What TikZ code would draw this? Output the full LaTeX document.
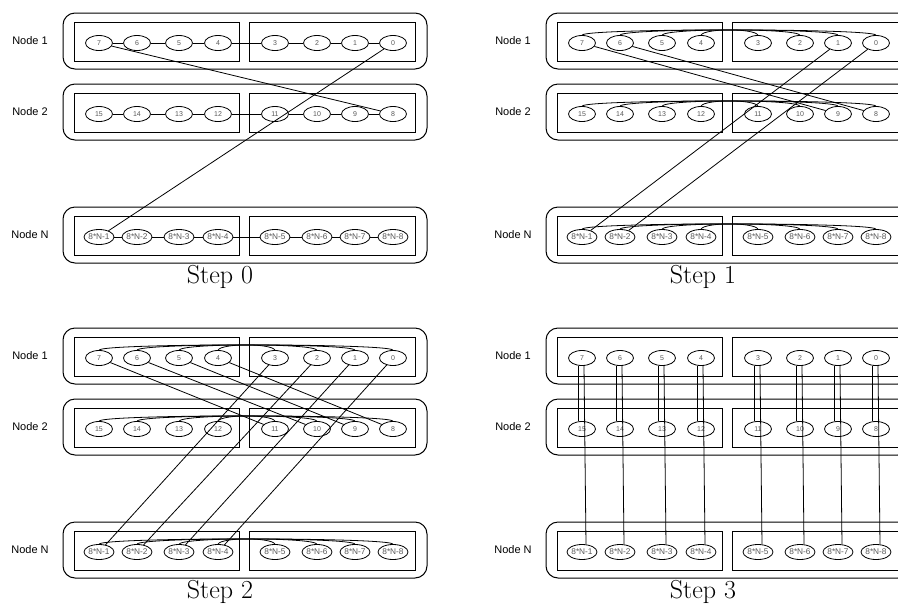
\documentclass[tikz,border=0pt]{standalone}
\usepackage{fontspec}
\newfontfamily\nodefont{Liberation Sans}
\usetikzlibrary{shapes.geometric}

\tikzset{
  gpu/.style={ellipse, draw, fill=white, line width=0.8pt, minimum width=27pt, minimum height=15pt,
    inner sep=0pt, text=black!65, font=\nodefont\fontsize{7}{8}\selectfont},
  gpuN/.style={gpu, font=\nodefont\fontsize{8.3}{9}\selectfont},
  outerbox/.style={draw, line width=1pt, rounded corners=12pt},
  innerbox/.style={draw, line width=1pt},
  rowlabel/.style={font=\nodefont\fontsize{11}{12}\selectfont},
  steplabel/.style={font=\fontsize{26}{30}\selectfont},
  link/.style={line width=0.8pt},
}

\begin{document}
\begin{tikzpicture}[x=1pt, y=-1pt]
\useasboundingbox (0,0) rectangle (898,606);
\clip (0,0) rectangle (898,606);

%%%%%%%%%%
% Panels (boxes, GPUs, captions)
%%%%%%%%%%
\foreach \s/\dx/\dy in {0/0/0, 1/483/0, 2/0/315, 3/483/315} {
\begin{scope}[shift={(\dx,\dy)}]
% node frames
\foreach \r/\y/\lab in {1/43/{Node 1}, 2/114/{Node 2}, N/237/{Node N}} {
  \draw[outerbox] (63,\y-30) rectangle (427,\y+26);
  \draw[innerbox] (74,\y-21) rectangle (239,\y+18);
  \draw[innerbox] (249,\y-21) rectangle (415,\y+18);
  \node[rowlabel] (lab\s\r) at (30,\y-2) {\lab};
}
% GPUs
\foreach \i/\x in {0/99, 1/137, 2/179, 3/218, 4/275, 5/317, 6/355, 7/393} {
  \pgfmathtruncatemacro{\ga}{7-\i}
  \pgfmathtruncatemacro{\gb}{15-\i}
  \pgfmathtruncatemacro{\gc}{\i+1}
  \node[gpu] (s\s-1-\i) at (\x,43) {\ga};
  \node[gpu] (s\s-2-\i) at (\x,114) {\gb};
  \node[gpuN] (s\s-N-\i) at (\x,237) {8*N-\gc};
}
\node[steplabel] (step\s) at (220,277) {Step \s};
\end{scope}
}

%%%%%%%%%%
% Step 0: one ring
%%%%%%%%%%
\foreach \r in {1,2,N} {
  \foreach \i [evaluate=\i as \j using int(\i+1)] in {0,...,6} {
    \draw[link] (s0-\r-\i) -- (s0-\r-\j);
  }
}
\draw[link] (s0-1-0) -- (s0-2-7);
\draw[link] (s0-1-7) -- (s0-N-0);

%%%%%%%%%%
% Steps 1 and 2: arcs inside each node
%%%%%%%%%%
\foreach \s in {1,2} {
  \foreach \r in {1,2,N} {
    \foreach \i [evaluate=\i as \j using int(7-\i)] in {0,...,3} {
      \draw[link] (s\s-\r-\i.north) to[out=60, in=120, out distance=8pt, in distance=8pt] (s\s-\r-\j.north);
    }
  }
}

% Step 1: cross-node links
\draw[link] (s1-1-0) -- (s1-2-6);
\draw[link] (s1-1-1) -- (s1-2-7);
\draw[link] (s1-1-6) -- (s1-N-0);
\draw[link] (s1-1-7) -- (s1-N-1);

% Step 2: cross-node links
\foreach \i [evaluate=\i as \j using int(\i+4)] in {0,...,3} {
  \draw[link] (s2-1-\i) -- (s2-2-\j);
  \draw[link] (s2-1-\j) -- (s2-N-\i);
}

%%%%%%%%%%
% Step 3: straight down
%%%%%%%%%%
\foreach \i in {0,...,7} {
  \draw[link] ([xshift=-4pt]s3-1-\i.south) -- ([xshift=-4pt]s3-2-\i.north);
  \draw[link] ([xshift=2pt]s3-1-\i.south) -- ([xshift=4pt]s3-N-\i.north);
}

\end{tikzpicture}
\end{document}
